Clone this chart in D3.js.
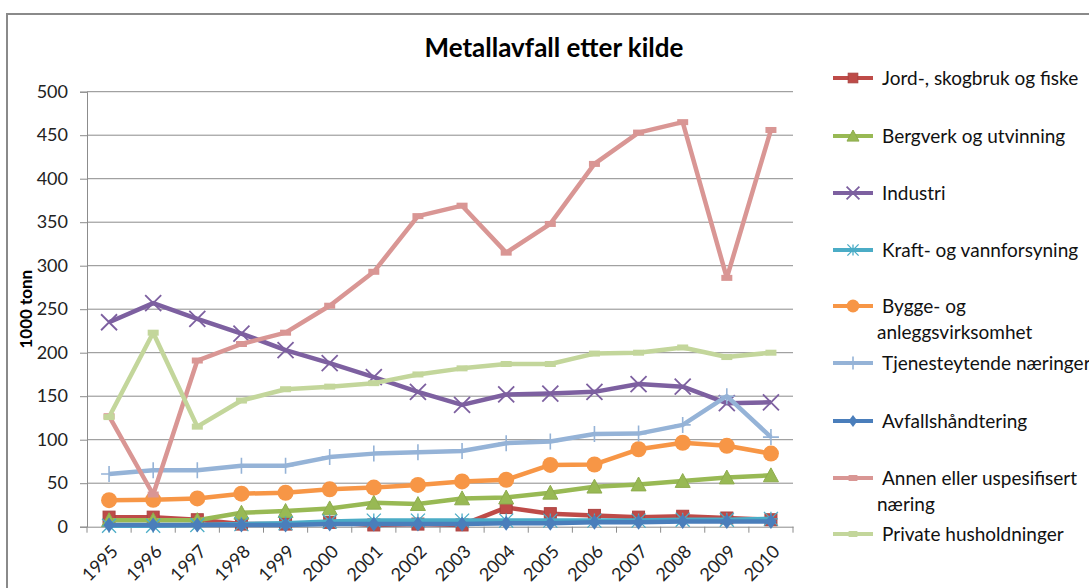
<!DOCTYPE html>
<html>
<head>
<meta charset="utf-8">
<script src="https://cdn.jsdelivr.net/npm/d3@7"></script>
<style>
  html, body { margin: 0; padding: 0; background: #fff; overflow: hidden; }
  svg { display: block; font-family: Lato, "Open Sans", sans-serif; }
</style>
</head>
<body>
<svg id="chart" width="1089" height="588"></svg>
<script>
// Metallavfall etter kilde, 1000 tonn
const years = ["1995","1996","1997","1998","1999","2000","2001","2002","2003","2004","2005","2006","2007","2008","2009","2010"];
const yTicks = [0, 50, 100, 150, 200, 250, 300, 350, 400, 450, 500];

const jord      = [11, 11, 8, 3, 3, 5, 2, 3, 2, 22, 15, 13, 11, 12, 10, 8];
const bergverk  = [7.5, 7.5, 7.5, 16, 18, 21, 27.5, 26, 32.5, 33.5, 39, 46, 48.5, 52.5, 56.5, 59];
const industri  = [235, 257, 239, 222, 203, 188, 172, 155, 140, 152, 153, 155, 164, 161, 142, 143];
const kraft     = [1, 1, 2, 3, 4, 6, 7, 7, 7, 7, 7, 7, 7, 8, 8, 9];
const bygge     = [30.5, 31, 32.5, 38, 39, 43, 45, 48, 52, 54, 71, 71.5, 89, 96.5, 93, 84];
const tjeneste  = [60.5, 65, 65, 70, 70, 80, 84, 85.5, 87, 96, 98, 106.5, 107, 117, 150, 103];
const avfall    = [2, 2, 2, 2, 2, 3, 3, 3, 3, 4, 4, 5, 5, 6, 6, 6];
const annen     = [127, 37, 191, 210, 223, 254, 293, 357, 369, 315, 348, 417, 453, 465, 286, 456];
const private_  = [126, 223, 115, 145, 158, 161, 165, 175, 182, 187, 187, 199, 200, 206, 195, 200];

const seriesNames = [
  "Jord-, skogbruk og fiske",
  "Bergverk og utvinning",
  "Industri",
  "Kraft- og vannforsyning",
  "Bygge- og anleggsvirksomhet",
  "Tjenesteytende næringer",
  "Avfallshåndtering",
  "Annen eller uspesifisert næring",
  "Private husholdninger"
];

// legend labels, wrapped as drawn
const legendLines = [
  ["Jord-, skogbruk og fiske"],
  ["Bergverk og utvinning"],
  ["Industri"],
  ["Kraft- og vannforsyning"],
  ["Bygge- og", "anleggsvirksomhet"],
  ["Tjenesteytende næringer"],
  ["Avfallshåndtering"],
  ["Annen eller uspesifisert", "næring"],
  ["Private husholdninger"]
];

const seriesValues = [jord, bergverk, industri, kraft, bygge, tjeneste, avfall, annen, private_];

// visual style per series
const styles = [
  { color: "#BE4B48", marker: "square",   size: 12 },
  { color: "#98B954", marker: "triangle", size: 15 },
  { color: "#7D60A0", marker: "x",        size: 16 },
  { color: "#4BACC6", marker: "asterisk", size: 14 },
  { color: "#F79646", marker: "circle",   size: 16 },
  { color: "#95B3D7", marker: "plus",     size: 16 },
  { color: "#4A7EBB", marker: "diamond",  size: 15 },
  { color: "#D99694", marker: "dash",     size: 11 },
  { color: "#C3D69B", marker: "dash",     size: 11 }
];

const svg = d3.select("#chart");

const plot = { left: 87, right: 793, top: 91.7, bottom: 526.7 };

const x = d3.scaleBand().domain(years).range([plot.left, plot.right]).padding(0);
const y = d3.scaleLinear().domain([0, 500]).range([plot.bottom, plot.top]);
const cx = d => x(d) + x.bandwidth() / 2;

// outer chart frame
svg.append("rect")
  .attr("x", 7).attr("y", 14)
  .attr("width", 1200).attr("height", 700)
  .attr("fill", "none")
  .attr("stroke", "#8a8a8a")
  .attr("stroke-width", 2);

// title
svg.append("text")
  .attr("x", 554).attr("y", 57)
  .attr("text-anchor", "middle")
  .attr("font-size", 26)
  .attr("font-weight", "bold")
  .attr("fill", "#000")
  .text("Metallavfall etter kilde");

// gridlines
svg.append("g")
  .selectAll("line")
  .data(yTicks.filter(t => t > 0))
  .join("line")
  .attr("x1", plot.left).attr("x2", plot.right)
  .attr("y1", d => y(d)).attr("y2", d => y(d))
  .attr("stroke", "#8c8c8c")
  .attr("stroke-width", 1);

// y axis
const yAxis = svg.append("g")
  .attr("transform", `translate(${plot.left},0)`)
  .call(d3.axisLeft(y).tickValues(yTicks).tickSize(7).tickPadding(12).tickFormat(d3.format("d")));
yAxis.select(".domain").attr("stroke", "#8c8c8c");
yAxis.selectAll(".tick line").attr("stroke", "#8c8c8c");
yAxis.selectAll(".tick text")
  .attr("font-size", 18)
  .attr("font-family", "Lato, sans-serif")
  .attr("fill", "#222");

// y axis title
svg.append("text")
  .attr("transform", `translate(32,${(plot.top + plot.bottom) / 2}) rotate(-90)`)
  .attr("text-anchor", "middle")
  .attr("font-size", 17)
  .attr("font-weight", "bold")
  .attr("fill", "#000")
  .text("1000 tonn");

// x axis: labels at category centres, tick marks between categories
const xAxis = svg.append("g")
  .attr("transform", `translate(0,${plot.bottom})`)
  .call(d3.axisBottom(x).tickSize(0).tickPadding(0));
xAxis.select(".domain").attr("stroke", "#8c8c8c");
xAxis.selectAll(".tick text")
  .attr("font-size", 18)
  .attr("font-family", "Lato, sans-serif")
  .attr("fill", "#222")
  .attr("text-anchor", "end")
  .attr("dy", 0)
  .attr("transform", "translate(10,26) rotate(-45)");

const boundaries = years.map(d => x(d)).concat([x(years[years.length - 1]) + x.bandwidth()]);
svg.append("g")
  .selectAll("line")
  .data(boundaries)
  .join("line")
  .attr("x1", d => d).attr("x2", d => d)
  .attr("y1", plot.bottom).attr("y2", plot.bottom + 6)
  .attr("stroke", "#8c8c8c");

// marker drawing
function drawMarker(g, type, size, color) {
  const h = size / 2;
  switch (type) {
    case "square":
      g.append("rect").attr("x", -h).attr("y", -h).attr("width", size).attr("height", size)
        .attr("fill", color).attr("stroke", d3.color(color).darker(0.3)).attr("stroke-width", 1);
      break;
    case "triangle":
      g.append("path").attr("d", `M0,${-h}L${h},${h * 0.85}L${-h},${h * 0.85}Z`)
        .attr("fill", color).attr("stroke", d3.color(color).darker(0.2)).attr("stroke-width", 1);
      break;
    case "circle":
      g.append("circle").attr("r", h).attr("fill", color);
      break;
    case "diamond":
      g.append("path").attr("d", `M0,${-h}L${h * 0.75},0L0,${h}L${-h * 0.75},0Z`).attr("fill", color);
      break;
    case "x":
      g.append("path").attr("d", `M${-h},${-h}L${h},${h}M${-h},${h}L${h},${-h}`)
        .attr("stroke", color).attr("stroke-width", 1.8).attr("fill", "none");
      break;
    case "plus":
      g.append("path").attr("d", `M0,${-h}L0,${h}M${-h},0L${h},0`)
        .attr("stroke", color).attr("stroke-width", 1.6).attr("fill", "none");
      break;
    case "asterisk":
      g.append("path")
        .attr("d", `M0,${-h}L0,${h}M${-h},${-h}L${h},${h}M${-h},${h}L${h},${-h}M${-h},0L${h},0`)
        .attr("stroke", color).attr("stroke-width", 1.3).attr("fill", "none");
      break;
    case "dash":
      g.append("rect").attr("x", -h).attr("y", -3).attr("width", size).attr("height", 6)
        .attr("fill", color);
      break;
  }
}

const line = d3.line().x(d => cx(d.year)).y(d => y(d.value));

// series, drawn in order so later ones sit on top
seriesValues.forEach((vals, i) => {
  const st = styles[i];
  const pts = years.map((yr, j) => ({ year: yr, value: vals[j] }));
  const g = svg.append("g").attr("class", "series");
  g.append("path")
    .datum(pts)
    .attr("d", line)
    .attr("fill", "none")
    .attr("stroke", st.color)
    .attr("stroke-width", 4.5)
    .attr("stroke-linejoin", "round");
  g.selectAll("g.marker")
    .data(pts)
    .join("g")
    .attr("class", "marker")
    .attr("transform", d => `translate(${cx(d.year)},${y(d.value)})`)
    .each(function () { drawMarker(d3.select(this), st.marker, st.size, st.color); });
});

// legend
const legendRows = [78, 136, 193, 250, 306, 363, 421, 478, 534];
const legend = svg.append("g");
seriesNames.forEach((name, i) => {
  const st = styles[i];
  const ry = legendRows[i];
  const row = legend.append("g").attr("transform", `translate(0,${ry})`);
  row.append("line")
    .attr("x1", 833).attr("x2", 873).attr("y1", 0).attr("y2", 0)
    .attr("stroke", st.color).attr("stroke-width", 4);
  const m = row.append("g").attr("transform", "translate(853,0)");
  drawMarker(m, st.marker, st.size * 0.8, st.color);
  legendLines[i].forEach((t, k) => {
    row.append("text")
      .attr("x", k === 0 ? 882 : 877)
      .attr("y", k * 26 + 7)
      .attr("font-size", 19)
      .attr("fill", "#111")
      .text(t);
  });
});
</script>
</body>
</html>
